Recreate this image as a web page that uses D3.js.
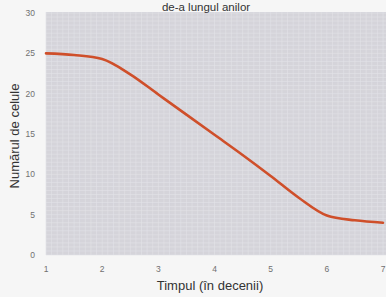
<!DOCTYPE html>
<html>
<head>
<meta charset="utf-8">
<script src="https://cdn.jsdelivr.net/npm/d3@7.9.0/dist/d3.min.js"></script>
<style>
  body { margin: 0; background: #f6f6f6; }
  svg { display: block; font-family: "Liberation Sans", Arial, sans-serif; }
</style>
</head>
<body>
<svg width="386" height="297"></svg>
<script>
// data
const years = [1, 1.5, 2, 2.5, 3, 3.5, 4, 4.5, 5, 5.5, 6, 6.5, 7];
const cells = [25, 24.8, 24.3, 22.4, 19.9, 17.4, 14.9, 12.4, 9.8, 7.1, 4.9, 4.3, 4.0];
const xTicks = [1, 2, 3, 4, 5, 6, 7];
const yTicks = [0, 5, 10, 15, 20, 25, 30];

const svg = d3.select('svg');
const plotL = 46, plotR = 383, plotT = 13, plotB = 255;

let x = d3.scaleLinear().domain([1, 7]).range([plotL, plotR]);
let y = d3.scaleLinear().domain([0, 30]).range([plotB, plotT]);

// plot background
svg.append('rect')
  .attr('x', plotL).attr('y', plotT - 1)
  .attr('width', 386 - plotL).attr('height', plotB - plotT + 1)
  .attr('fill', '#d5d4da');

// fine paper grid
let grid = svg.append('g').attr('stroke', '#e3e2e7').attr('stroke-width', 0.6);
d3.range(1, 7.05, 0.1).forEach(v => {
  grid.append('line')
    .attr('x1', x(v)).attr('x2', x(v))
    .attr('y1', plotT - 1).attr('y2', plotB);
});
d3.range(0, 30.01, 0.5).forEach(v => {
  grid.append('line')
    .attr('x1', plotL).attr('x2', 386)
    .attr('y1', y(v)).attr('y2', y(v));
});

// tick labels
svg.append('g').selectAll('text').data(yTicks).join('text')
  .attr('x', 35).attr('y', d => y(d) + 3)
  .attr('text-anchor', 'end')
  .attr('font-size', 8.5).attr('fill', '#707070')
  .text(d => d);

svg.append('g').selectAll('text').data(xTicks).join('text')
  .attr('x', d => x(d)).attr('y', 272)
  .attr('text-anchor', 'middle')
  .attr('font-size', 8.5).attr('fill', '#707070')
  .text(d => d);

// the curve
let line = d3.line()
  .x((d, i) => x(years[i]))
  .y(d => y(d))
  .curve(d3.curveMonotoneX);

svg.append('path')
  .attr('d', line(cells))
  .attr('fill', 'none')
  .attr('stroke', '#cf4f2a')
  .attr('stroke-width', 2.6)
  .attr('stroke-linecap', 'round');

// titles
svg.append('text')
  .attr('x', 206).attr('y', 10.5)
  .attr('text-anchor', 'middle')
  .attr('font-size', 11.5).attr('fill', '#333')
  .text('de-a lungul anilor');

svg.append('text')
  .attr('x', 210).attr('y', 290)
  .attr('text-anchor', 'middle')
  .attr('font-size', 13).attr('fill', '#333')
  .text('Timpul (în decenii)');

svg.append('text')
  .attr('transform', 'translate(19,136) rotate(-90)')
  .attr('text-anchor', 'middle')
  .attr('font-size', 13).attr('fill', '#333')
  .text('Numărul de celule');
</script>
</body>
</html>
